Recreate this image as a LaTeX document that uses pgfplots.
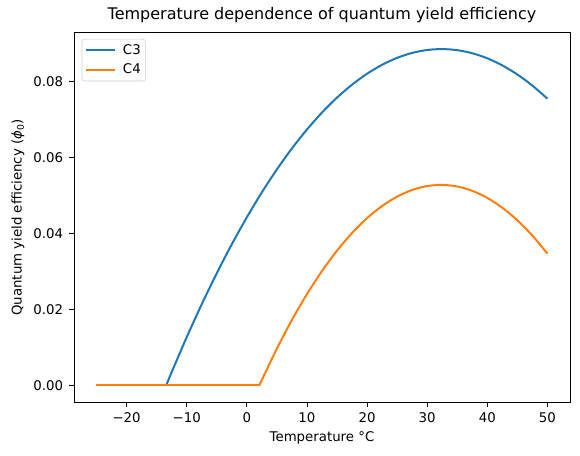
\documentclass[border=0pt]{standalone}
\usepackage{fontspec}
\setmainfont{DejaVu Sans}
\usepackage{pgfplots}
\pgfplotsset{compat=1.18}
\definecolor{mplblue}{HTML}{1F77B4}
\definecolor{mplorange}{HTML}{FF7F0E}
\begin{document}
\begin{tikzpicture}
\begin{axis}[
  scale only axis,
  width=372pt, height=277pt,
  xmin=-28.75, xmax=53.75,
  ymin=-0.004425, ymax=0.092925,
  scaled ticks=false,
  xtick={-20,-10,0,10,20,30,40,50},
  xticklabels={−20,−10,0,10,20,30,40,50},
  ytick={0,0.02,0.04,0.06,0.08},
  yticklabels={0.00,0.02,0.04,0.06,0.08},
  axis line style={line width=0.6pt},
  tick style={line width=0.6pt, black},
  tick align=outside,
  major tick length=3.6pt,
  xtick pos=lower, ytick pos=left,
  tick label style={font=\fontsize{10}{12}\selectfont},
  xticklabel style={yshift=-1pt},
  yticklabel style={xshift=-1pt},
  label style={font=\fontsize{10}{12}\selectfont},
  xlabel={Temperature °C},
  ylabel={Quantum yield efficiency (\textit{ϕ}\textsubscript{0})},
  title={Temperature dependence of quantum yield efficiency},
  title style={font=\fontsize{12}{14}\selectfont, yshift=-2pt},
  legend style={at={(0,1)}, anchor=north west, xshift=5.8pt, yshift=-4.7pt,
    draw=black!20, rounded corners=2pt, font=\fontsize{10}{12}\selectfont,
    inner xsep=2pt, inner ysep=2.5pt, row sep=2.5pt,
    nodes={inner sep=1.5pt}},
  legend cell align=left,
  legend image code/.code={\draw[#1, line width=1.5pt] (0pt,0pt) -- (21.75pt,0pt);},
]
\addplot[mplblue, line width=1.5pt, smooth, tension=0.5] coordinates {
(-13.4,0) (-12.5,0.003448) (-10,0.012666) (-7.5,0.021357) (-5,0.029520)
(-2.5,0.037154) (0,0.044260) (2.5,0.050839) (5,0.056889) (7.5,0.062412)
(10,0.067407) (12.5,0.071873) (15,0.075812) (17.5,0.079223) (20,0.082106)
(22.5,0.084461) (25,0.086287) (27.5,0.087586) (30,0.088357) (32.5,0.088600)
(35,0.088314) (37.5,0.087501) (40,0.086160) (42.5,0.084291) (45,0.081894)
(47.5,0.078969) (50,0.075516)};
\addlegendentry{\hspace{4pt}C3}
\addplot[mplblue, line width=1.5pt, forget plot] coordinates {(-25,0) (-13.4,0)};
\addplot[mplorange, line width=1.5pt, smooth, tension=0.5] coordinates {
(2.1,0) (2.5,0.001389) (5,0.009653) (7.5,0.017194) (10,0.024011)
(12.5,0.030104) (15,0.035474) (17.5,0.040120) (20,0.044042) (22.5,0.047240)
(25,0.049715) (27.5,0.051466) (30,0.052494) (32.5,0.052798) (35,0.052378)
(37.5,0.051235) (40,0.049368) (42.5,0.046777) (45,0.043463) (47.5,0.039425)
(50,0.034663)};
\addlegendentry{\hspace{4pt}C4}
\addplot[mplorange, line width=1.5pt, forget plot, line cap=round] coordinates {(-25,0) (2.1,0)};
\end{axis}
\path (current axis.south west) ++(-55.5pt,-39.75pt) coordinate (bbsw);
\path (current axis.north east) ++(7.5pt,24.5pt) coordinate (bbne);
\useasboundingbox (bbsw) rectangle (bbne);
\end{tikzpicture}
\end{document}
